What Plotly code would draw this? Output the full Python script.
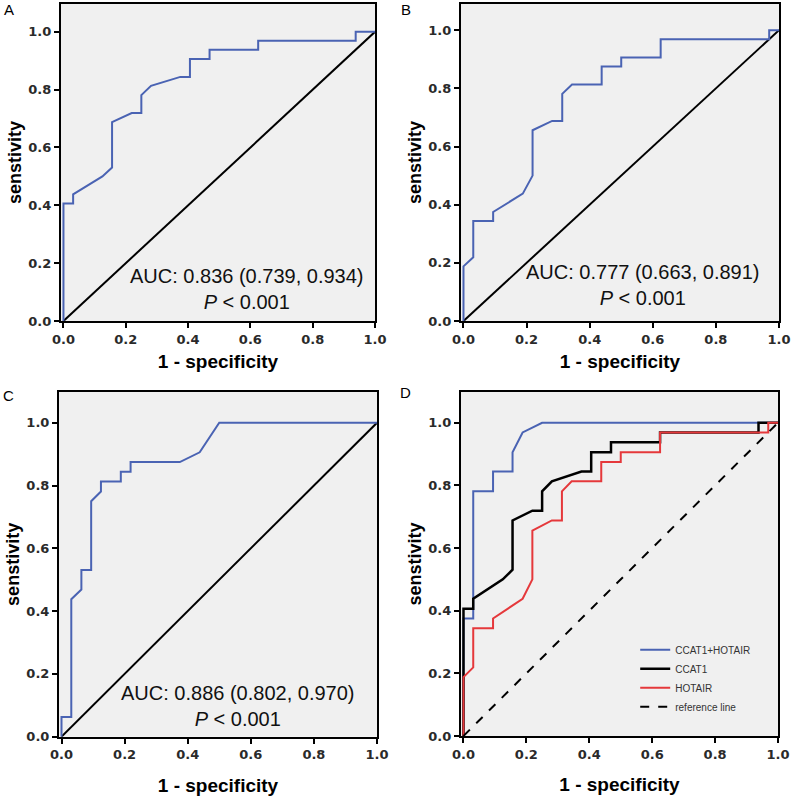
import plotly.graph_objects as go

# ROC curves (1 - specificity, sensitivity)
ccat1_fpr = [0, 0, 0.031, 0.031, 0.125, 0.156, 0.156, 0.219, 0.25, 0.25, 0.281, 0.375, 0.406, 0.406,
             0.469, 0.469, 0.625, 0.625, 0.938, 0.938, 1.0]
ccat1_tpr = [0, 0.406, 0.406, 0.438, 0.5, 0.531, 0.688, 0.719, 0.719, 0.781, 0.813, 0.844, 0.844, 0.906,
             0.906, 0.938, 0.938, 0.969, 0.969, 1.0, 1.0]

hotair_fpr = [0, 0, 0.031, 0.031, 0.094, 0.094, 0.188, 0.219, 0.219, 0.281, 0.313, 0.313, 0.344, 0.438,
              0.438, 0.5, 0.5, 0.625, 0.625, 0.969, 0.969, 1.0]
hotair_tpr = [0, 0.188, 0.219, 0.344, 0.344, 0.375, 0.438, 0.5, 0.656, 0.688, 0.688, 0.781, 0.813, 0.813,
              0.875, 0.875, 0.906, 0.906, 0.969, 0.969, 1.0, 1.0]

combo_fpr = [0, 0, 0.031, 0.031, 0.063, 0.063, 0.094, 0.094, 0.125, 0.125, 0.188, 0.188, 0.219, 0.219,
             0.375, 0.438, 0.5, 1.0]
combo_tpr = [0, 0.063, 0.063, 0.438, 0.469, 0.531, 0.531, 0.75, 0.781, 0.813, 0.813, 0.844, 0.844, 0.875,
             0.875, 0.906, 1.0, 1.0]

combo_d_fpr = [0, 0, 0.031, 0.031, 0.094, 0.094, 0.156, 0.156, 0.188, 0.25, 1.0]
combo_d_tpr = [0, 0.375, 0.375, 0.781, 0.781, 0.844, 0.844, 0.906, 0.969, 1.0, 1.0]

ref_line = [0, 1]

auc_texts = ['AUC: 0.836 (0.739, 0.934)', 'AUC: 0.777 (0.663, 0.891)', 'AUC: 0.886 (0.802, 0.970)']
p_text = '<i>P</i> < 0.001'
panel_labels = ['A', 'B', 'C', 'D']
tick_vals = [0, 0.2, 0.4, 0.6, 0.8, 1.0]
tick_text = ['<b>0.0</b>', '<b>0.2</b>', '<b>0.4</b>', '<b>0.6</b>', '<b>0.8</b>', '<b>1.0</b>']

blue = '#4a63b3'
red = '#e5383b'

fig = go.Figure()

# panel: (x domain, y domain, y top, x title standoff, label position)
panels = [
    ([0.0766, 0.4711], [0.6007, 0.995], 1.096, 9, (0.0107, 0.9876)),
    ([0.5791, 0.9786], [0.6007, 0.995], 1.09, 9, (0.5100, 0.9876)),
    ([0.0741, 0.4736], [0.0837, 0.5124], 1.098, 17, (0.0107, 0.5087)),
    ([0.5791, 0.9774], [0.0846, 0.5124], 1.098, 17, (0.5100, 0.5112)),
]

for i, (xd, yd, ytop, xs, lab) in enumerate(panels):
    n = '' if i == 0 else str(i + 1)
    fig.update_layout(**{
        'xaxis' + n: dict(domain=xd, range=[-0.008, 1.0], anchor='y' + n, tickvals=tick_vals, ticktext=tick_text,
                          ticks='outside', ticklen=5, tickwidth=1.5, tickcolor='black', showgrid=False,
                          zeroline=False, showline=True, linecolor='black', linewidth=2, mirror=True,
                          automargin=False,
                          tickfont=dict(family='DejaVu Sans', size=13, color='#2a2a2a'),
                          title=dict(text='<b>1 - specificity</b>', standoff=xs,
                                     font=dict(family='Liberation Sans', size=19, color='black'))),
        'yaxis' + n: dict(domain=yd, range=[0, ytop], anchor='x' + n, tickvals=tick_vals, ticktext=tick_text,
                          ticks='outside', ticklen=5, tickwidth=1.5, tickcolor='black', showgrid=False,
                          zeroline=False, showline=True, linecolor='black', linewidth=2, mirror=True,
                          automargin=False,
                          tickfont=dict(family='DejaVu Sans', size=13, color='#2a2a2a'),
                          title=dict(text='<b>senstivity</b>', standoff=2,
                                     font=dict(family='Liberation Sans', size=18, color='black'))),
    })
    # grey plotting area
    fig.add_shape(type='rect', xref='x' + n + ' domain', yref='y' + n + ' domain', x0=0, x1=1, y0=0, y1=1,
                  fillcolor='#f0f0f0', line=dict(width=0), layer='below')
    fig.add_annotation(text=panel_labels[i], xref='paper', yref='paper', x=lab[0], y=lab[1],
                       showarrow=False, xanchor='center', yanchor='middle',
                       font=dict(family='Liberation Sans', size=15, color='black'))

# single ROC panels A, B, C
singles = [(ccat1_fpr, ccat1_tpr), (hotair_fpr, hotair_tpr), (combo_fpr, combo_tpr)]
auc_pos = [(0.587, 0.11), (0.568, 0.123), (0.557, 0.099)]
for i, (fx, ty) in enumerate(singles):
    n = '' if i == 0 else str(i + 1)
    fig.add_trace(go.Scatter(x=ref_line, y=ref_line, mode='lines', line=dict(color='black', width=2),
                             xaxis='x' + n, yaxis='y' + n, showlegend=False))
    fig.add_trace(go.Scatter(x=fx, y=ty, mode='lines', line=dict(color=blue, width=2),
                             xaxis='x' + n, yaxis='y' + n, showlegend=False))
    fig.add_annotation(text=auc_texts[i] + '<br>' + p_text, xref='x' + n, yref='y' + n,
                       x=auc_pos[i][0], y=auc_pos[i][1], showarrow=False, align='center',
                       font=dict(family='Liberation Sans', size=20, color='#111'))

# panel D: all curves together
fig.add_trace(go.Scatter(x=combo_d_fpr, y=combo_d_tpr, mode='lines', name='CCAT1+HOTAIR',
                         line=dict(color=blue, width=2), xaxis='x4', yaxis='y4'))
fig.add_trace(go.Scatter(x=ccat1_fpr, y=ccat1_tpr, mode='lines', name='CCAT1',
                         line=dict(color='black', width=2.5), xaxis='x4', yaxis='y4'))
fig.add_trace(go.Scatter(x=hotair_fpr, y=hotair_tpr, mode='lines', name='HOTAIR',
                         line=dict(color=red, width=2), xaxis='x4', yaxis='y4'))
fig.add_trace(go.Scatter(x=ref_line, y=ref_line, mode='lines', name='reference line',
                         line=dict(color='black', width=2, dash='dash'), xaxis='x4', yaxis='y4'))

fig.update_layout(
    width=796, height=804,
    margin=dict(l=0, r=0, t=0, b=0),
    paper_bgcolor='white', plot_bgcolor='rgba(0,0,0,0)',
    showlegend=True,
    legend=dict(x=0.798, y=0.21, xanchor='left', yanchor='top', bgcolor='rgba(0,0,0,0)',
                font=dict(family='Liberation Sans', size=10, color='#333'), itemwidth=30,
                tracegroupgap=0),
)

# drop the page's default body margin so the figure sits at the window corner
fig.write_html('out.html', config={'displayModeBar': False},
               post_script="document.body.style.margin='0';"
                           "document.documentElement.style.overflow='hidden';")
